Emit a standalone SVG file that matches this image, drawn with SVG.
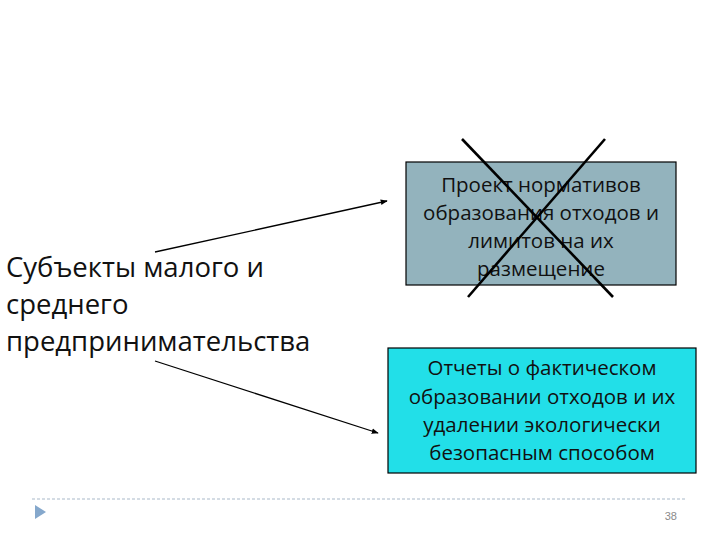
<svg xmlns="http://www.w3.org/2000/svg" width="720" height="540" viewBox="0 0 720 540">
  <defs>
    <marker id="arr" viewBox="0 0 10 10" refX="9" refY="5" markerWidth="7" markerHeight="7" orient="auto" markerUnits="userSpaceOnUse">
      <path d="M0,1 L10,5 L0,9 Z" fill="#000"/>
    </marker>
  </defs>
  <style>
    .lbl { font-family: "Open Sans", "Noto Sans", sans-serif; fill: #111; }
    .big { font-size: 27.5px; }
    .box { font-size: 20.5px; text-anchor: middle; }
    .conn { stroke: #000; stroke-width: 1.3; fill: none; marker-end: url(#arr); }
    .cross { stroke: #000; stroke-width: 2.6; }
  </style>
  <rect width="720" height="540" fill="#fff"/>

  <g id="subjects">
    <text class="lbl big" x="6" y="277">Субъекты малого и</text>
    <text class="lbl big" x="6" y="314">среднего</text>
    <text class="lbl big" x="6" y="351">предпринимательства</text>
  </g>

  <g id="project">
    <rect x="406" y="162" width="270" height="123" fill="#93b3bd" stroke="#000" stroke-width="1.2"/>
    <text class="lbl box" x="541" y="192">Проект нормативов</text>
    <text class="lbl box" x="541" y="220">образования отходов и</text>
    <text class="lbl box" x="541" y="248">лимитов на их</text>
    <text class="lbl box" x="541" y="276">размещение</text>
    <line class="cross" x1="462" y1="139" x2="613" y2="297"/>
    <line class="cross" x1="605" y1="139" x2="468" y2="297"/>
  </g>

  <g id="reports">
    <rect x="388" y="348" width="308" height="125" fill="#22dfe8" stroke="#000" stroke-width="1.2"/>
    <text class="lbl box" x="542" y="375">Отчеты о фактическом</text>
    <text class="lbl box" x="542" y="404">образовании отходов и их</text>
    <text class="lbl box" x="542" y="432">удалении экологически</text>
    <text class="lbl box" x="542" y="460">безопасным способом</text>
  </g>

  <g id="connectors">
    <line class="conn" x1="155" y1="252" x2="387" y2="201"/>
    <line class="conn" x1="155" y1="361" x2="378" y2="433"/>
  </g>

  <g id="footer">
    <line x1="32" y1="499" x2="687" y2="499" stroke="#a9b9c9" stroke-width="1" stroke-dasharray="3,2"/>
    <path d="M35,505 L46,512 L35,519 Z" fill="#85a8cc"/>
    <text x="677" y="520" text-anchor="end" font-family="Liberation Sans, sans-serif" font-size="11" fill="#8a8a8a">38</text>
  </g>
</svg>
